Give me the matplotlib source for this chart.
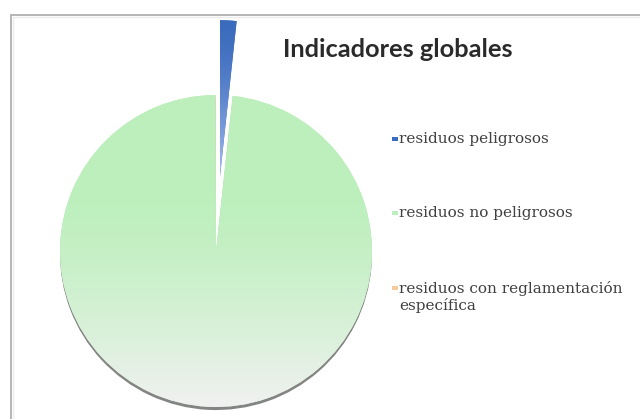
import matplotlib
matplotlib.use('Agg')
import matplotlib.pyplot as plt
import numpy as np
from matplotlib.patches import Rectangle, Shadow

# ---- data ----
categories = ['residuos peligrosos', 'residuos no peligrosos',
              'residuos con reglamentación\nespecífica']
values = [1.7, 98.25, 0.05]
colors = ['#3d6cbf', '#bdeebd', '#f8c99c']
explode = [0.48, 0.0, 0.0]
title = 'Indicadores globales'

W, H = 640, 419
fig = plt.figure(figsize=(6.4, 4.19), dpi=100)
ax = fig.add_axes([0, 0, 1, 1])

cx, cy, r = 216, H - 251, 156
wedges, _ = ax.pie(values, colors=colors, explode=[e * r for e in explode],
                   startangle=90, counterclock=False, center=(cx, cy), radius=r,
                   frame=True, wedgeprops=dict(linewidth=0))

# shadow under the large slice
sh = Shadow(wedges[1], 0.0, -2.2)
sh.set_facecolor('#6f6f6f')
sh.set_alpha(0.85)
sh.set_zorder(0.5)
ax.add_patch(sh)

# vertical gradient on the green slice
n = 256
t = np.linspace(0, 1, n)
top = np.array([0.745, 0.94, 0.745])
bot = np.array([0.945, 0.945, 0.945])
w = np.clip((t - 0.35) / 0.65, 0, 1) ** 1.3
grad = (top[None, :] * (1 - w[:, None]) + bot[None, :] * w[:, None])[:, None, :]
im = ax.imshow(grad, extent=(cx - r, cx + r, cy - r, cy + r), origin='upper',
               aspect='auto', zorder=wedges[1].get_zorder() + 0.1, interpolation='bilinear')
im.set_clip_path(wedges[1])

# gradient on blue slice
off = explode[0] * r
btop = np.array([0.23, 0.42, 0.74])
bbot = np.array([0.66, 0.75, 0.94])
wb = t ** 1.6
gradb = (btop[None, :] * (1 - wb[:, None]) + bbot[None, :] * wb[:, None])[:, None, :]
imb = ax.imshow(gradb, extent=(cx - 30, cx + 50, cy + off, cy + off + r + 2), origin='upper',
                aspect='auto', zorder=wedges[0].get_zorder() + 0.1, interpolation='bilinear')
imb.set_clip_path(wedges[0])

ax.set_xlim(0, W)
ax.set_ylim(0, H)
ax.axis('off')

# chart border (cropped at right/bottom)
ax.add_patch(Rectangle((10.5, -50), 800, (H - 15.5) + 50, fill=False,
                       edgecolor='#b5b5b5', lw=1.4, zorder=5))
ax.add_patch(Rectangle((12.5, -50), 800, (H - 17.5) + 50, fill=False,
                       edgecolor='#ececec', lw=1.0, zorder=5))

# title
ax.text(283, H - 57, title, ha='left', va='baseline', fontsize=18.3,
        fontweight='bold', family='Lato', color='#2a2a2a')

# legend
leg_y = [139, 213, 288]
for lab, col, y in zip(categories, colors, leg_y):
    ax.add_patch(Rectangle((392, H - y - 2), 6, 4, facecolor=col, edgecolor='none', zorder=6))
    ax.text(399, H - y + 6.5, lab, ha='left', va='top', fontsize=11,
            family='DejaVu Serif', color='#404040', linespacing=1.1)

fig.savefig('out.png', dpi=100)
